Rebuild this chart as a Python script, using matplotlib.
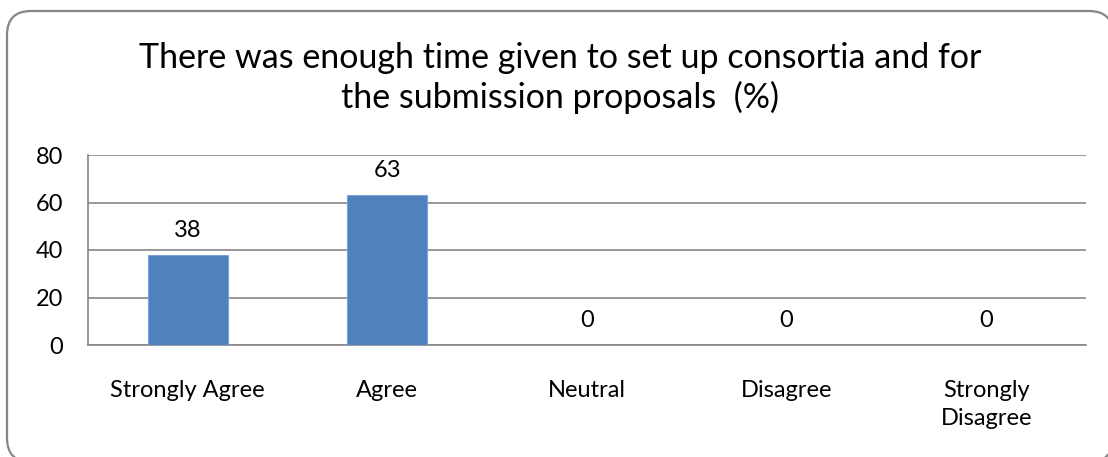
import matplotlib
matplotlib.use("Agg")
import matplotlib.pyplot as plt
from matplotlib.patches import FancyBboxPatch

categories = ["Strongly Agree", "Agree", "Neutral", "Disagree", "Strongly\nDisagree"]
values = [38, 63, 0, 0, 0]
labels = ["38", "63", "0", "0", "0"]
yticks = [0, 20, 40, 60, 80]
title = "There was enough time given to set up consortia and for\nthe submission proposals  (%)"

plt.rcParams["font.family"] = ["Lato", "DejaVu Sans"]

W, H = 1108, 457
fig = plt.figure(figsize=(W / 100, H / 100), dpi=100)

# rounded chart border, drawn in pixel coordinates (bottom/right run off the image)
bg = fig.add_axes([0, 0, 1, 1])
bg.set_xlim(0, W)
bg.set_ylim(H, 0)
bg.axis("off")
r = 24
x0, y0, x1, y1 = 7, 11, 1113, 462
border = FancyBboxPatch((x0 + r, y0 + r), (x1 - x0) - 2 * r, (y1 - y0) - 2 * r,
                        boxstyle=f"round,pad={r}", fc="white", ec="#868686", lw=1.6)
bg.add_patch(border)

bg.text(W / 2 + 6, 78, title, ha="center", va="center", fontsize=24.5,
        linespacing=1.25, color="black")

ax = fig.add_axes([88 / W, 1 - 345 / H, (1086 - 88) / W, (345 - 155) / H])
ax.set_facecolor("none")
x = range(len(categories))
ax.bar(x, values, width=0.4, color="#4F81BD", edgecolor="#7FA5D4", linewidth=0.8, zorder=3)
ax.set_xlim(-0.5, len(categories) - 0.5)
ax.set_ylim(0, 80)
ax.set_yticks(yticks)
ax.set_yticklabels([str(t) for t in yticks], fontsize=17)
ax.set_xticks(list(x))
ax.set_xticklabels(categories, fontsize=17, va="top", linespacing=1.4)
ax.tick_params(axis="both", length=0)
ax.tick_params(axis="y", pad=18)
ax.tick_params(axis="x", pad=25)
ax.grid(axis="y", color="#868686", linewidth=1.2, zorder=0)
for s in ["top", "right"]:
    ax.spines[s].set_visible(False)
for s in ["left", "bottom"]:
    ax.spines[s].set_color("#868686")
    ax.spines[s].set_linewidth(1.2)

for i, (v, lab) in enumerate(zip(values, labels)):
    ax.annotate(lab, (i, v), xytext=(0, 10), textcoords="offset points",
                ha="center", va="bottom", fontsize=17)

fig.savefig("out.png", dpi=100)
